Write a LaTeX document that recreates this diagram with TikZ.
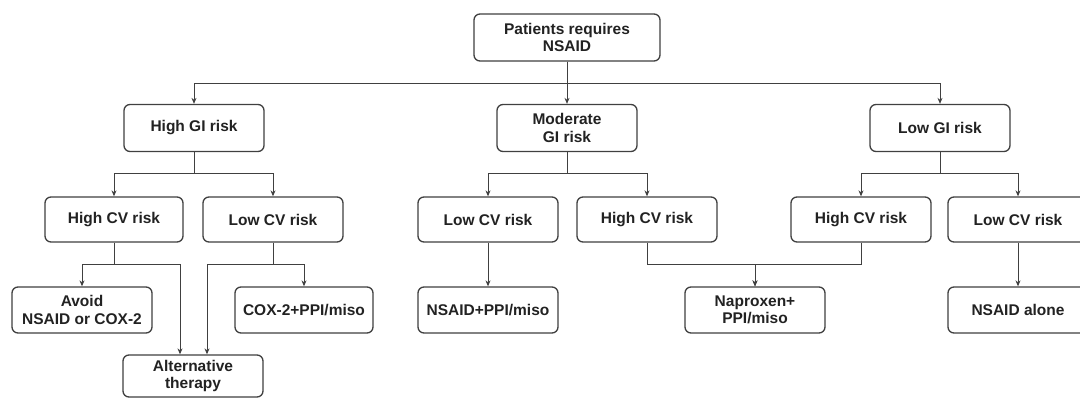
\documentclass[tikz,border=0pt]{standalone}
\usepackage{fontspec}
\setmainfont{Liberation Sans}
\usetikzlibrary{arrows.meta,calc}
\definecolor{linec}{HTML}{404040}
\definecolor{textc}{HTML}{222222}
\begin{document}
\begin{tikzpicture}[x=1pt,y=-1pt,
  box/.style={draw=linec,line width=1.3pt,rounded corners=6pt,align=center,
    inner sep=1pt,font=\bfseries\fontsize{15.5}{17.5}\selectfont,text=textc,
    minimum width=140pt,minimum height=46pt},
  arr/.style={draw=linec,line width=1pt,-{Stealth[length=6pt,width=5pt]}}]
\useasboundingbox[fill=white] (0,0) rectangle (1080,398);
\node[box,minimum width=186pt,minimum height=47pt] (top) at (567,37.5) {Patients requires\\NSAID};
\node[box,minimum height=47pt] (hgi) at (194,128) {High GI risk};
\node[box,minimum height=47pt] (mgi) at (567,128) {Moderate\\GI risk};
\node[box,minimum height=47pt] (lgi) at (940,128) {Low GI risk};
\node[box,minimum width=138pt,minimum height=45pt] (hcv1) at (114,219.5) {High CV risk};
\node[box,minimum height=45pt] (lcv1) at (273,219.5) {Low CV risk};
\node[box,minimum height=45pt] (lcv2) at (488,219.5) {Low CV risk};
\node[box,minimum height=45pt] (hcv2) at (647,219.5) {High CV risk};
\node[box,minimum height=45pt] (hcv3) at (861,219.5) {High CV risk};
\node[box,minimum height=45pt] (lcv3) at (1018,219.5) {Low CV risk};
\node[box] (avoid) at (82,310) {Avoid\\NSAID or COX-2};
\node[box,minimum width=138pt] (cox) at (304,310) {COX-2+PPI/miso};
\node[box] (nppi) at (488,310) {NSAID+PPI/miso};
\node[box] (nap) at (755,310) {Naproxen+\\PPI/miso};
\node[box] (alone) at (1018,310) {NSAID alone};
\node[box,minimum height=42pt] (alt) at (193,376) {Alternative\\therapy};
% level 1
\draw[arr] (top.south) -- ++(0,22) -| (hgi.north);
\draw[arr] (top.south) -- ++(0,22) -| (lgi.north);
\draw[arr] (top) -- (mgi);
% level 2
\draw[arr] (hgi.south) -- ++(0,21.5) -| (hcv1.north);
\draw[arr] (hgi.south) -- ++(0,21.5) -| (lcv1.north);
\draw[arr] (mgi.south) -- ++(0,21.5) -| (lcv2.north);
\draw[arr] (mgi.south) -- ++(0,21.5) -| (hcv2.north);
\draw[arr] (lgi.south) -- ++(0,21.5) -| (hcv3.north);
\draw[arr] (lgi.south) -- ++(0,21.5) -| (lcv3.north);
% level 3
\draw[arr] (hcv1.south) -- ++(0,22) -| (avoid.north);
\draw[arr] (hcv1.south) -- ++(0,22) -| ($(alt.north)+(-13,0)$);
\draw[arr] (lcv1.south) -- ++(0,22) -| (cox.north);
\draw[arr] (lcv1.south) -- ++(0,22) -| ($(alt.north)+(14,0)$);
\draw[arr] (lcv2) -- (nppi);
\draw[arr] (hcv2.south) -- ++(0,22) -| (nap.north);
\draw[arr] (hcv3.south) -- ++(0,22) -| (nap.north);
\draw[arr] (lcv3) -- (alone);
\end{tikzpicture}
\end{document}
